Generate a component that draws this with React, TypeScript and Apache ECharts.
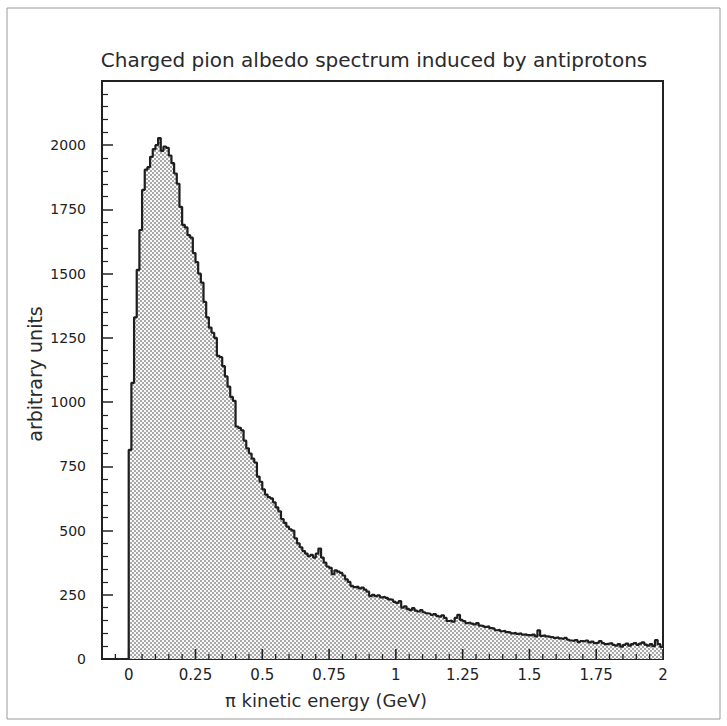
import React, { useEffect, useRef } from "react";
import * as echarts from "echarts";

// Histogram: 200 bins of 0.01 GeV from 0 to 2 GeV
const binWidth = 0.01;
const counts: number[] = [
  814, 1075, 1330, 1515, 1670, 1826, 1905, 1915, 1955, 1985,
  2000, 2028, 1978, 1995, 1990, 1960, 1930, 1890, 1850, 1760,
  1690, 1680, 1650, 1640, 1580, 1545, 1500, 1465, 1390, 1330,
  1290, 1270, 1250, 1180, 1175, 1140, 1100, 1060, 1020, 1005,
  905, 900, 890, 850, 820, 800, 780, 765, 710, 690,
  660, 640, 630, 625, 610, 590, 575, 545, 530, 515,
  505, 500, 470, 450, 435, 420, 410, 400, 405, 395,
  410, 430, 395, 375, 360, 355, 330, 345, 340, 335,
  325, 310, 300, 285, 280, 282, 275, 278, 270, 262,
  245, 250, 245, 248, 240, 242, 238, 232, 230, 222,
  218, 225, 200, 205, 195, 190, 198, 188, 185, 190,
  182, 178, 176, 172, 175, 168, 165, 170, 160, 148,
  150, 145, 160, 172, 152, 148, 140, 142, 138, 135,
  140, 130, 128, 125, 127, 120, 118, 112, 114, 108,
  110, 105, 104, 100, 102, 98, 100, 95, 96, 93,
  92, 95, 88, 112, 90, 92, 88, 86, 85, 82,
  84, 80, 78, 82, 75, 72, 70, 74, 66, 70,
  68, 72, 65, 68, 62, 64, 70, 62, 58, 60,
  62, 55, 52, 58, 48, 55, 60, 52, 58, 62,
  55, 60, 65, 56, 52, 58, 50, 74, 58, 47,
];

const xMajorTicks: number[] = [0, 0.25, 0.5, 0.75, 1, 1.25, 1.5, 1.75, 2];
const xTickLabels: string[] = ["0", "0.25", "0.5", "0.75", "1", "1.25", "1.5", "1.75", "2"];
const xMinorTicks: number[] = [
  -0.05, 0.05, 0.1, 0.15, 0.2, 0.3, 0.35, 0.4, 0.45, 0.55, 0.6, 0.65, 0.7,
  0.8, 0.85, 0.9, 0.95, 1.05, 1.1, 1.15, 1.2, 1.3, 1.35, 1.4, 1.45, 1.55,
  1.6, 1.65, 1.7, 1.8, 1.85, 1.9, 1.95,
];
const yLabels: number[] = [0, 250, 500, 750, 1000, 1250, 1500, 1750, 2000];

const titleText = "Charged pion albedo spectrum induced by antiprotons";
const xTitle = "\u03c0 kinetic energy (GeV)";
const yTitle = "arbitrary units";

const FONT = "DejaVu Sans";

function makePattern(): HTMLCanvasElement {
  const c = document.createElement("canvas");
  c.width = 4;
  c.height = 4;
  const ctx = c.getContext("2d")!;
  ctx.fillStyle = "#f8f8f8";
  ctx.fillRect(0, 0, 4, 4);
  ctx.fillStyle = "#a8a8a8";
  ctx.fillRect(0, 0, 2, 2);
  ctx.fillRect(2, 2, 2, 2);
  return c;
}

export default function App() {
  const ref = useRef<HTMLDivElement>(null);

  useEffect(() => {
    if (!ref.current) return;
    const chart = echarts.init(ref.current, undefined, { renderer: "svg" });

    const points: number[][] = [[0, 0]];
    counts.forEach((v, i) => points.push([i * binWidth, v]));
    points.push([counts.length * binWidth, counts[counts.length - 1]]);

    const pattern = makePattern();

    const tickSeries = (values: number[], len: number, width: number) => ({
      type: "scatter",
      data: values.map((v) => [v, 0]),
      symbol: "rect",
      symbolSize: [width, len],
      symbolOffset: [0, -len / 2],
      itemStyle: { color: "#222", opacity: 1 },
      silent: true,
      clip: false,
      z: 10,
      emphasis: { disabled: true },
    });

    chart.setOption({
      animation: false,
      backgroundColor: "#ffffff",
      grid: {
        left: 102,
        right: 64,
        top: 81,
        bottom: 67,
        show: true,
        borderColor: "#222",
        borderWidth: 2,
        backgroundColor: "transparent",
      },
      graphic: [
        {
          type: "rect",
          shape: { x: 7, y: 8, width: 713, height: 711 },
          style: { fill: "none", stroke: "#9a9a9a", lineWidth: 1 },
          silent: true,
        },
        {
          type: "text",
          x: 374,
          y: 60,
          style: {
            text: titleText,
            font: `20px "${FONT}"`,
            fill: "#2a2a2a",
            textAlign: "center",
            textVerticalAlign: "middle",
          },
        },
        {
          type: "text",
          x: 326,
          y: 700,
          style: {
            text: xTitle,
            font: `18px "${FONT}"`,
            fill: "#2a2a2a",
            textAlign: "center",
            textVerticalAlign: "middle",
          },
        },
        {
          type: "text",
          x: 35,
          y: 374,
          rotation: Math.PI / 2,
          style: {
            text: yTitle,
            font: `19px "${FONT}"`,
            fill: "#2a2a2a",
            textAlign: "center",
            textVerticalAlign: "middle",
          },
        },
      ],
      xAxis: {
        type: "value",
        position: "bottom",
        min: -0.1,
        max: 2,
        axisLine: { show: false, onZero: false },
        splitLine: { show: false },
        axisTick: { show: false },
        axisLabel: {
          show: true,
          customValues: xMajorTicks,
          formatter: (v: number) => {
            const idx = xMajorTicks.findIndex((t) => Math.abs(t - v) < 1e-9);
            return idx >= 0 ? xTickLabels[idx] : "";
          },
          margin: 8,
          color: "#222",
          fontFamily: FONT,
          fontSize: 15,
        },
      },
      yAxis: {
        type: "value",
        min: 0,
        max: 2250,
        interval: 250,
        axisLine: { show: false, onZero: false },
        splitLine: { show: false },
        axisTick: {
          show: true,
          inside: true,
          length: 11,
          lineStyle: { color: "#222", width: 1.5 },
        },
        minorTick: {
          show: true,
          splitNumber: 5,
          length: 6,
          lineStyle: { color: "#222", width: 1.2 },
        },
        axisLabel: {
          color: "#222",
          fontFamily: FONT,
          fontSize: 14,
          margin: 16,
          formatter: (v: number) => (yLabels.includes(v) ? String(v) : ""),
        },
      },
      series: [
        {
          type: "line",
          step: "end",
          data: points,
          symbol: "none",
          z: 1,
          lineStyle: { color: "#1e1e1e", width: 2.2 },
          areaStyle: {
            origin: "start",
            opacity: 1,
            color: { image: pattern, repeat: "repeat" },
          },
        },
        tickSeries(xMajorTicks, 10, 1.6),
        tickSeries(xMinorTicks, 5, 1.3),
      ],
    });

    return () => chart.dispose();
  }, []);

  return (
    <div
      ref={ref}
      style={{ position: "absolute", left: 0, top: 0, width: 727, height: 726, background: "#fff" }}
    />
  );
}
